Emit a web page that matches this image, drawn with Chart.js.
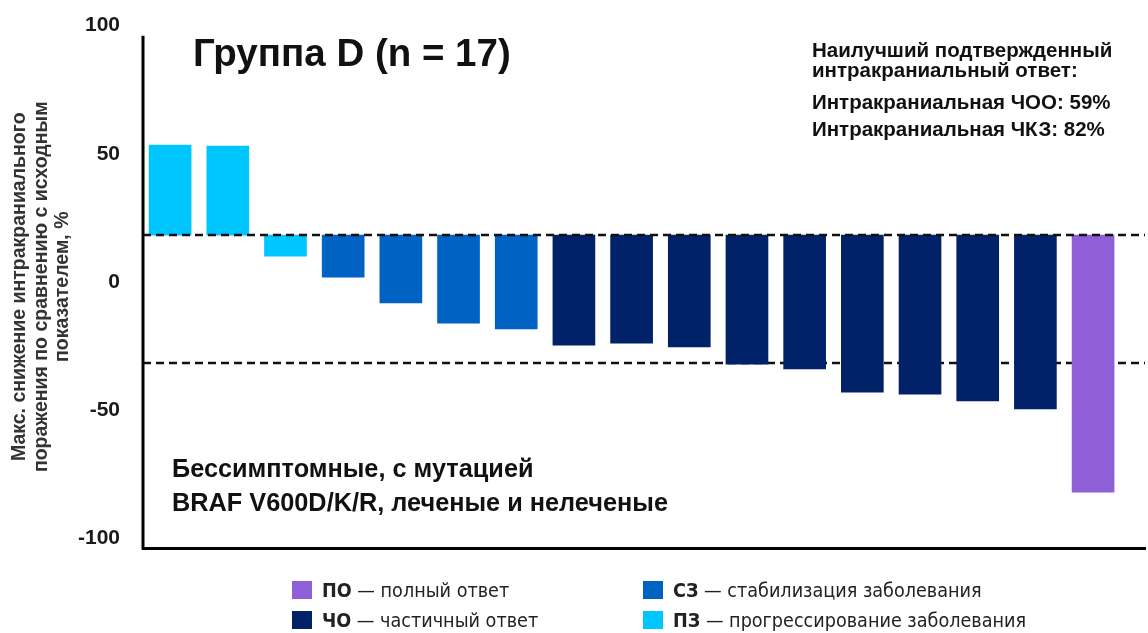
<!DOCTYPE html>
<html>
<head>
<meta charset="utf-8">
<script src="https://cdn.jsdelivr.net/npm/chart.js@4.4.0/dist/chart.umd.min.js"></script>
<style>
  body { margin: 0; background: #fff; }
  #wrap { position: relative; width: 1148px; height: 633px; font-family: "Liberation Sans", Arial, sans-serif; }
  .note { position: absolute; font-weight: bold; color: #111; white-space: nowrap; }
  .item { position: absolute; height: 22px; line-height: 22px; white-space: nowrap; color: #222;
          font-family: "Liberation Sans Narrow", "DejaVu Sans Condensed", sans-serif; font-size: 19.6px; }
  .sw { display: inline-block; width: 20px; height: 18px; vertical-align: -2px; margin-right: 10px; }
</style>
</head>
<body>
<div id="wrap">
  <canvas id="myChart"></canvas>
  <div class="note" style="left:193px; top:33px; font-size:38.5px; line-height:40px;">Группа D (n = 17)</div>
  <div class="note" style="left:812px; top:40px; font-size:20.5px; line-height:20px;">Наилучший подтвержденный</div>
  <div class="note" style="left:812px; top:60px; font-size:20.5px; line-height:20px;">интракраниальный ответ:</div>
  <div class="note" style="left:812px; top:92px; font-size:20.5px; line-height:20px;">Интракраниальная ЧОО: 59%</div>
  <div class="note" style="left:812px; top:119px; font-size:20.5px; line-height:20px;">Интракраниальная ЧКЗ: 82%</div>
  <div class="note" style="left:172px; top:454px; font-size:25.3px; line-height:28px;">Бессимптомные, с мутацией</div>
  <div class="note" style="left:172px; top:488px; font-size:25.3px; line-height:28px;">BRAF V600D/K/R, леченые и нелеченые</div>
  <div id="legend"></div>
</div>
<script>
// response per patient, sorted as in the waterfall
const responses = ['ПЗ', 'ПЗ', 'ПЗ', 'СЗ', 'СЗ', 'СЗ', 'СЗ', 'ЧО', 'ЧО', 'ЧО', 'ЧО', 'ЧО', 'ЧО', 'ЧО', 'ЧО', 'ЧО', 'ПО'];
const changes = [53.4, 53.0, 10.1, 1.9, -8.2, -16.0, -18.3, -24.6, -23.8, -25.3, -32.0, -33.9, -42.9, -43.7, -46.4, -49.5, -81.9];
const barBase = 18.3;
const refLines = [18.3, -31.6];
const yTicks = [-100, -50, 0, 50, 100];
const yAxisTop = 96;
const yTitle = ['Макс. снижение интракраниального', 'поражения по сравнению с исходным', 'показателем, %'];
const legendCodes = ['ПО', 'ЧО', 'СЗ', 'ПЗ'];
const legendNames = ['полный ответ', 'частичный ответ', 'стабилизация заболевания', 'прогрессирование заболевания'];

const colours = { 'ПО': '#8E5FD6', 'ЧО': '#012268', 'СЗ': '#0062C3', 'ПЗ': '#00C6FF' };

function dashed(chart, v) {
  const { ctx, chartArea, scales: { y } } = chart;
  const py = y.getPixelForValue(v);
  ctx.save();
  ctx.strokeStyle = '#111';
  ctx.lineWidth = 2.5;
  ctx.setLineDash([8, 5]);
  ctx.beginPath();
  ctx.moveTo(chartArea.left, py);
  ctx.lineTo(chartArea.right, py);
  ctx.stroke();
  ctx.restore();
}

const refLinesPlugin = {
  id: 'refLines',
  beforeDatasetsDraw(chart) {
    const { ctx, chartArea, scales: { y } } = chart;
    // y axis line
    ctx.save();
    ctx.strokeStyle = '#000';
    ctx.lineWidth = 3;
    ctx.beginPath();
    ctx.moveTo(chartArea.left, y.getPixelForValue(yAxisTop));
    ctx.lineTo(chartArea.left, chartArea.bottom + 1.5);
    ctx.stroke();
    ctx.restore();
    refLines.forEach(v => { if (v !== barBase) dashed(chart, v); });
  },
  afterDatasetsDraw(chart) {
    dashed(chart, barBase);
  }
};

const ctx = document.getElementById('myChart').getContext('2d');
new Chart(ctx, {
  type: 'bar',
  data: {
    datasets: [{
      data: changes.map((v, i) => ({ x: i + 1, y: [barBase, v] })),
      backgroundColor: responses.map(r => colours[r]),
      borderWidth: 0,
      barThickness: 42
    }]
  },
  options: {
    responsive: true,
    maintainAspectRatio: false,
    animation: false,
    layout: { autoPadding: false, padding: { top: 25.5, right: 3, bottom: 85, left: 0 } },
    plugins: { legend: { display: false }, tooltip: { enabled: false } },
    scales: {
      x: {
        type: 'linear',
        offset: false,
        bounds: 'data',
        min: 0.53,
        max: 17.9,
        grid: { display: false, drawTicks: false },
        ticks: { display: false },
        border: { color: '#000', width: 3 }
      },
      y: {
        bounds: 'data',
        min: -103.7,
        max: 100,
        afterBuildTicks: axis => { axis.ticks = yTicks.map(v => ({ value: v })); },
        afterFit: axis => { axis.width = 143; axis.paddingTop = 0; axis.paddingBottom = 0; },
        grid: { display: false, drawTicks: false },
        border: { display: false },
        ticks: {
          padding: 23,
          color: '#1a1a1a',
          font: { family: '"Liberation Sans", Arial, sans-serif', size: 21, weight: 'bold' }
        },
        title: {
          display: true,
          text: yTitle,
          color: '#333',
          font: { family: '"Liberation Sans", Arial, sans-serif', size: 19.5, weight: 'bold', lineHeight: 1.1 },
          padding: { top: 9, bottom: 0 }
        }
      }
    }
  },
  plugins: [refLinesPlugin]
});

// legend, 2 x 2
const legendEl = document.getElementById('legend');
legendCodes.forEach((code, i) => {
  const item = document.createElement('div');
  item.className = 'item';
  item.style.left = (i < 2 ? 292 : 643) + 'px';
  item.style.top = (i % 2 === 0 ? 580 : 610) + 'px';
  item.innerHTML = '<span class="sw" style="background:' + colours[code] + '"></span><b>' + code + '</b> — ' + legendNames[i];
  legendEl.appendChild(item);
});
</script>
</body>
</html>
